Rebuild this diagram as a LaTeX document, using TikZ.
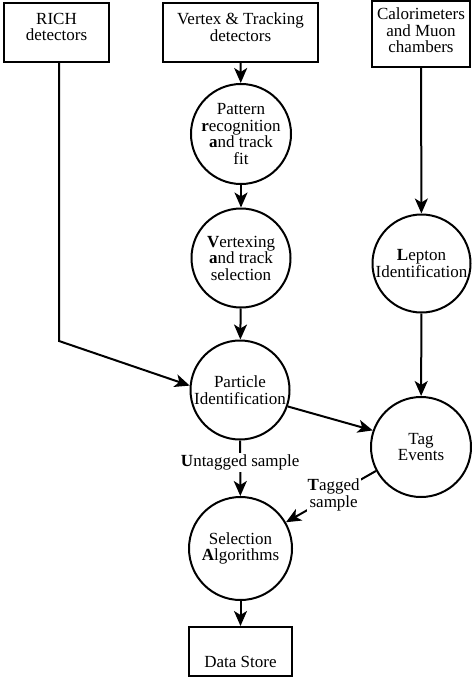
\documentclass[tikz,border=0pt]{standalone}
\usepackage{fontspec}
\setmainfont{Liberation Serif}
\usetikzlibrary{arrows.meta}
\tikzset{
  base/.style={draw, line width=2pt, inner sep=0pt, align=center,
    font=\fontsize{17}{16.5}\selectfont},
  boxnode/.style={base, rectangle, text depth=11pt},
  circnode/.style={base, circle},
  arr/.style={-{Stealth[length=15pt,width=13pt,inset=4pt]}, line width=2pt},
  lab/.style={fill=white, inner sep=2pt, align=center,
    font=\fontsize{17}{16.5}\selectfont}
}
\begin{document}
\begin{tikzpicture}[x=1pt,y=-1pt]
\useasboundingbox (0,0) rectangle (471,677);
% boxes
\node[boxnode, minimum width=105pt, minimum height=59pt] (rich) at (56.5,32.5) {RICH\\detectors};
\node[boxnode, minimum width=155pt, minimum height=59pt] (vtx) at (240.5,32.5) {Vertex \& Tracking\\detectors};
\node[boxnode, minimum width=98pt, minimum height=66pt, text depth=7pt] (calo) at (421,34) {Calorimeters\\and Muon\\chambers};
\node[base, rectangle, minimum width=103pt, minimum height=49pt, text height=31pt, text depth=0pt] (ds) at (240.5,651.5) {Data Store};
% circles
\node[circnode, minimum size=99pt] (pat) at (241,134) {Pattern\\\textbf{r}ecognition\\\textbf{a}nd track\\fit};
\node[circnode, minimum size=99pt] (vert) at (241,258) {\textbf{V}ertexing\\\textbf{a}nd track\\selection};
\node[circnode, minimum size=99pt] (pid) at (240,390) {Particle\\Identification};
\node[circnode, minimum size=98pt] (lep) at (421.5,263.5) {\textbf{L}epton\\Identification};
\node[circnode, minimum size=100pt] (tag) at (421,447) {Tag\\Events};
\node[circnode, minimum size=103pt] (sel) at (240.5,548.5) {Selection\\\textbf{A}lgorithms};
\coordinate (corner) at (59,341);
% connectors
\draw[arr] (vtx) -- (pat);
\draw[arr] (pat) -- (vert);
\draw[arr] (vert) -- (pid);
\draw[arr] (pid) -- node[lab, pos=0.4] {\textbf{U}ntagged sample} (sel);
\draw[arr] (sel) -- (ds);
\draw[arr] (calo) -- (lep);
\draw[arr] (lep) -- (tag);
\draw[arr] (rich.south -| corner) -- (corner) -- (pid.175);
\draw[arr] (pid.-19) -- (tag.161);
\draw[arr] (tag.-152) -- node[lab, pos=0.47, inner sep=1pt] {\textbf{T}agged\\sample} (sel.30);
\end{tikzpicture}
\end{document}
